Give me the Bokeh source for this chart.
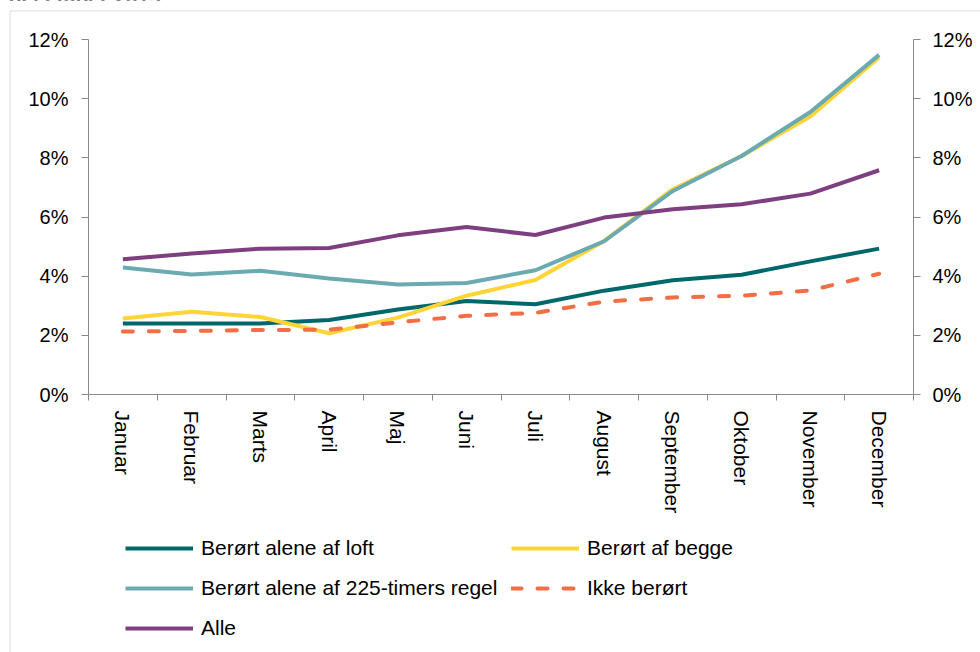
from bokeh.plotting import figure
from bokeh.models import (Range1d, LinearAxis, FixedTicker, PrintfTickFormatter,
                          Legend, LegendItem, BoxAnnotation, Div, ColumnDataSource)
from bokeh.layouts import column
from bokeh.embed import file_html
from bokeh.resources import INLINE

# ---- data (percent) ----
months = ["Januar", "Februar", "Marts", "April", "Maj", "Juni", "Juli",
          "August", "September", "Oktober", "November", "December"]
loft = [2.40, 2.40, 2.40, 2.52, 2.87, 3.16, 3.05, 3.51, 3.86, 4.05, 4.50, 4.93]
begge = [2.57, 2.80, 2.62, 2.07, 2.60, 3.34, 3.87, 5.19, 6.94, 8.06, 9.40, 11.40]
timer225 = [4.29, 4.06, 4.18, 3.92, 3.72, 3.77, 4.20, 5.18, 6.88, 8.06, 9.55, 11.48]
ikke = [2.13, 2.15, 2.18, 2.19, 2.44, 2.66, 2.76, 3.14, 3.28, 3.34, 3.52, 4.08]
alle = [4.57, 4.77, 4.93, 4.95, 5.38, 5.66, 5.39, 5.98, 6.26, 6.43, 6.79, 7.58]
y_ticks = [0, 2, 4, 6, 8, 10, 12]
title_text = "december 2013."

series = [
    ("Berørt alene af loft", "loft", "#00686B", "solid"),
    ("Berørt af begge", "begge", "#FFD436", "solid"),
    ("Berørt alene af 225-timers regel", "timer225", "#6AAAB0", "solid"),
    ("Ikke berørt", "ikke", "#F36D45", "10 16"),
    ("Alle", "alle", "#7D3F80", "solid"),
]

FONT = "Liberation Sans"
AX = "#898989"
W, H = 980, 652

# pixel geometry of the plotting area (whole canvas is the frame)
PX_LEFT, PX_RIGHT = 88, 913      # x = 0.5 and x = 12.5
PX_TOP, PX_ZERO = 39, 394        # y = 12 and y = 0
ux = (PX_RIGHT - PX_LEFT) / 12.0
uy = (PX_ZERO - PX_TOP) / 12.0
x_range = Range1d(0.5 - PX_LEFT / ux, 12.5 + (W - PX_RIGHT) / ux)
y_range = Range1d(-(H - PX_ZERO) / uy, 12 + PX_TOP / uy)

x = list(range(1, len(months) + 1))
src = ColumnDataSource(dict(x=x, loft=loft, begge=begge, timer225=timer225,
                            ikke=ikke, alle=alle))

p = figure(width=W, height=H, x_range=x_range, y_range=y_range,
           output_backend="svg", toolbar_location=None,
           x_axis_type=None, y_axis_type=None,
           min_border=0, min_border_left=0, min_border_right=0,
           min_border_top=0, min_border_bottom=0)
p.title.visible = False
p.outline_line_color = None
p.background_fill_color = "white"
p.border_fill_color = "white"

def style_y(ax, standoff):
    ax.ticker = FixedTicker(ticks=y_ticks)
    ax.formatter = PrintfTickFormatter(format="%d%%")
    ax.bounds = (0, 12)
    ax.axis_line_color = AX
    ax.major_tick_line_color = AX
    ax.major_tick_out = 7
    ax.major_tick_in = 0
    ax.minor_tick_line_color = None
    ax.major_label_text_font = FONT
    ax.major_label_text_font_size = "20px"
    ax.major_label_text_color = "black"
    ax.major_label_standoff = standoff

yl = LinearAxis(fixed_location=0.5)
style_y(yl, 13)
p.add_layout(yl, "left")
yr = LinearAxis(fixed_location=12.5)
style_y(yr, 12)
p.add_layout(yr, "right")

xa = LinearAxis(fixed_location=0,
                ticker=FixedTicker(ticks=x, minor_ticks=[i + 0.5 for i in range(0, 13)]))
xa.bounds = (0.5, 12.5)
xa.major_label_overrides = {i: m for i, m in zip(x, months)}
xa.axis_line_color = AX
xa.major_tick_line_color = None
xa.major_tick_out = 0
xa.major_tick_in = 0
xa.minor_tick_line_color = AX
xa.minor_tick_out = 6
xa.minor_tick_in = 0
xa.major_label_orientation = "vertical"
xa.major_label_text_font = FONT
xa.major_label_text_font_size = "21px"
xa.major_label_text_color = "black"
xa.major_label_standoff = 10
p.add_layout(xa, "below")

renderers = []
for name, col, color, dash in series:
    r = p.line("x", col, source=src, line_color=color, line_width=4,
               line_dash=dash, line_cap="round" if dash != "solid" else "butt",
               line_join="round")
    renderers.append((name, r))

def make_legend(items, vx, vy):
    lg = Legend(items=[LegendItem(label=n, renderers=[r]) for n, r in items],
                location=(vx, vy), orientation="vertical")
    lg.border_line_color = None
    lg.background_fill_alpha = 0
    lg.padding = 0
    lg.margin = 0
    lg.spacing = 16
    lg.glyph_width = 68
    lg.glyph_height = 24
    lg.label_height = 24
    lg.label_standoff = 8
    lg.label_text_font = FONT
    lg.label_text_font_size = "21px"
    lg.label_text_color = "black"
    lg.label_text_baseline = "middle"
    return lg

leg1 = make_legend([renderers[0], renderers[2], renderers[4]], 125, 12)
leg2 = make_legend([renderers[1], renderers[3]], 511, 52)
p.add_layout(leg1, "center")
p.add_layout(leg2, "center")

frame_box = BoxAnnotation(left=9.5, right=3000, top=10.5, bottom=3000,
                          left_units="canvas", right_units="canvas",
                          top_units="canvas", bottom_units="canvas",
                          fill_alpha=0, line_color="#8C8C8C", line_width=1)
p.add_layout(frame_box)

div = Div(text=title_text, width=400, height=14, margin=(-14, 0, 0, 9),
          styles={"font-family": "Liberation Sans, Arial, sans-serif",
                  "font-weight": "bold", "font-size": "21px", "color": "black",
                  "line-height": "normal"})

layout = column(div, p, spacing=0)
open("out.html", "w").write(file_html(layout, INLINE))
